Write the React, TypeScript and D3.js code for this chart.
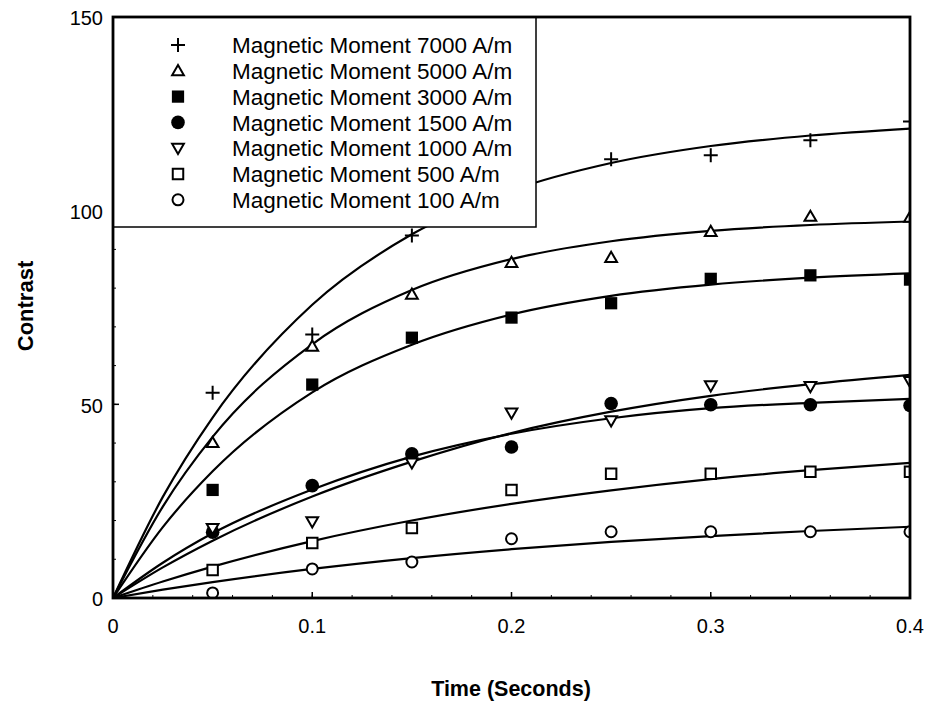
import React from "react";
import * as d3 from "d3";

// ---------- data ----------
const SERIES_LABELS = [
  "Magnetic Moment 7000 A/m",
  "Magnetic Moment 5000 A/m",
  "Magnetic Moment 3000 A/m",
  "Magnetic Moment 1500 A/m",
  "Magnetic Moment 1000 A/m",
  "Magnetic Moment 500 A/m",
  "Magnetic Moment 100 A/m",
];
const SERIES_MARKERS = ["plus", "triUp", "squareFilled", "circleFilled", "triDown", "squareOpen", "circleOpen"];

const T_POINTS = [0.05, 0.1, 0.15, 0.2, 0.25, 0.3, 0.35, 0.4];
const P7000 = [53, 68, 93.6, 104, 113.3, 114.3, 118.2, 123];
const P5000 = [40.1, 65, 78.4, 86.6, 87.9, 94.6, 98.5, 98.3];
const P3000 = [27.9, 55.1, 67.2, 72.4, 76.1, 82.4, 83.3, 82.2];
const P1500 = [17.0, 29.0, 37.2, 39.0, 50.2, 49.9, 49.9, 49.7];
const P1000 = [18.0, 19.7, 34.9, 47.8, 45.8, 54.8, 54.6, 55.9];
const P500 = [7.2, 14.2, 18.1, 27.9, 32.1, 32.1, 32.6, 32.6];
const P100 = [1.3, 7.5, 9.3, 15.3, 17.1, 17.1, 17.1, 17.1];

const T_CURVE = [0, 0.025, 0.05, 0.1, 0.15, 0.2, 0.25, 0.3, 0.35, 0.4];
const C7000 = [0, 26.1, 46.6, 75.7, 93.9, 105.2, 112.3, 116.7, 119.4, 121.2];
const C5000 = [0, 23.6, 41.6, 65.5, 79.5, 87.5, 92.1, 94.8, 96.3, 97.2];
const C3000 = [0, 18.3, 32.7, 53.1, 65.4, 73.2, 78.0, 80.9, 82.7, 83.8];
const C1500 = [0, 9.1, 16.7, 28.0, 36.5, 42.4, 46.4, 49.0, 50.4, 51.4];
const C1000 = [0, 7.9, 14.8, 26.2, 35.2, 42.6, 48.1, 52.2, 55.2, 57.6];
const C500 = [0, 4.25, 8.1, 14.7, 20.0, 24.3, 27.8, 30.7, 33.0, 34.9];
const C100 = [0, 2.15, 4.1, 7.5, 10.3, 12.6, 14.5, 16.0, 17.3, 18.4];

const POINT_SERIES = [P7000, P5000, P3000, P1500, P1000, P500, P100];
const CURVE_SERIES = [C7000, C5000, C3000, C1500, C1000, C500, C100];

const X_TICKS = [0, 0.1, 0.2, 0.3, 0.4];
const X_TICK_LABELS = ["0", "0.1", "0.2", "0.3", "0.4"];
const Y_TICKS = [0, 50, 100, 150];
const Y_TICK_LABELS = ["0", "50", "100", "150"];

const X_TITLE = "Time (Seconds)";
const Y_TITLE = "Contrast";

// ---------- layout ----------
const W = 930;
const H = 701;
const PL = 113, PR = 910, PT = 17, PB = 598;
const FONT = "'Liberation Sans', Arial, Helvetica, sans-serif";

const x = d3.scaleLinear().domain([0, 0.4]).range([PL, PR]);
const y = d3.scaleLinear().domain([0, 150]).range([PB, PT]);

function Marker({ kind, cx, cy }: { kind: string; cx: number; cy: number }) {
  const t = `translate(${cx},${cy})`;
  switch (kind) {
    case "plus":
      return (
        <path d="M-7,0H7M0,-7V7" transform={t} stroke="#000" strokeWidth={2} fill="none" />
      );
    case "triUp":
      return (
        <path d={d3.symbol(d3.symbolTriangle, 60)() as string} transform={t + " translate(0,1)"} stroke="#000" strokeWidth={2} fill="#fff" />
      );
    case "triDown":
      return (
        <path d={d3.symbol(d3.symbolTriangle, 60)() as string} transform={t + " translate(0,-1) rotate(180)"} stroke="#000" strokeWidth={2} fill="#fff" />
      );
    case "squareFilled":
      return <path d={d3.symbol(d3.symbolSquare, 150)() as string} transform={t} fill="#000" />;
    case "squareOpen":
      return <path d={d3.symbol(d3.symbolSquare, 110)() as string} transform={t} fill="#fff" stroke="#000" strokeWidth={2} />;
    case "circleFilled":
      return <circle cx={cx} cy={cy} r={6.8} fill="#000" />;
    case "circleOpen":
      return <circle cx={cx} cy={cy} r={5.5} fill="#fff" stroke="#000" strokeWidth={2} />;
  }
  return null;
}

export default function App() {
  const line = d3
    .line<[number, number]>()
    .x((d) => x(d[0]))
    .y((d) => y(d[1]))
    .curve(d3.curveMonotoneX);

  const minorX = d3.range(0, 0.4001, 0.02);
  const minorY = d3.range(0, 150.01, 10);

  const legendX = PL, legendY = PT, legendW = 423, legendH = 210;
  const rowStart = 45, rowStep = 25.8;

  return (
    <svg
      width={W}
      height={H}
      style={{ position: "absolute", left: 0, top: 0, background: "#fff" }}
      fontFamily={FONT}
    >
      <defs>
        <clipPath id="plotClip">
          <rect x={PL} y={PT} width={PR - PL} height={PB - PT} />
        </clipPath>
      </defs>
      <rect x={0} y={0} width={W} height={H} fill="#fff" />

      {/* minor ticks */}
      {minorX.map((v, i) => (
        <line key={"mx" + i} x1={x(v)} x2={x(v)} y1={PB} y2={PB - 3} stroke="#000" strokeWidth={1} />
      ))}
      {minorY.map((v, i) => (
        <line key={"my" + i} x1={PL} x2={PL + 3} y1={y(v)} y2={y(v)} stroke="#000" strokeWidth={1} />
      ))}
      {X_TICKS.map((v, i) => (
        <line key={"tx" + i} x1={x(v)} x2={x(v)} y1={PB} y2={PB - 6} stroke="#000" strokeWidth={1.5} />
      ))}
      {Y_TICKS.map((v, i) => (
        <line key={"ty" + i} x1={PL} x2={PL + 6} y1={y(v)} y2={y(v)} stroke="#000" strokeWidth={1.5} />
      ))}

      {/* curves & points */}
      <g clipPath="url(#plotClip)">
        {CURVE_SERIES.map((vals, si) => (
          <path
            key={"c" + si}
            d={line(T_CURVE.map((t, i) => [t, vals[i]] as [number, number])) as string}
            fill="none"
            stroke="#000"
            strokeWidth={2.2}
          />
        ))}
        {POINT_SERIES.map((vals, si) =>
          vals.map((v, i) => (
            <Marker key={"p" + si + "-" + i} kind={SERIES_MARKERS[si]} cx={x(T_POINTS[i])} cy={y(v)} />
          ))
        )}
      </g>

      {/* legend */}
      <rect x={legendX} y={legendY} width={legendW} height={legendH} fill="#fff" stroke="#000" strokeWidth={1.5} />
      {SERIES_LABELS.map((lab, i) => (
        <g key={"lg" + i}>
          <Marker kind={SERIES_MARKERS[i]} cx={178} cy={legendY + rowStart - PT + i * rowStep} />
          <text
            x={232}
            y={legendY + rowStart - PT + i * rowStep}
            dy="0.36em"
            fontSize={22.5}
            fill="#000"
          >
            {lab}
          </text>
        </g>
      ))}

      {/* frame */}
      <rect x={PL} y={PT} width={PR - PL} height={PB - PT} fill="none" stroke="#000" strokeWidth={2.8} />

      {/* tick labels */}
      {X_TICKS.map((v, i) => (
        <text key={"xl" + i} x={x(v)} y={626} dy="0.36em" textAnchor="middle" fontSize={20} fill="#000">
          {X_TICK_LABELS[i]}
        </text>
      ))}
      {Y_TICKS.map((v, i) => (
        <text key={"yl" + i} x={103} y={y(v) + 1} dy="0.36em" textAnchor="end" fontSize={20} fill="#000">
          {Y_TICK_LABELS[i]}
        </text>
      ))}

      {/* axis titles */}
      <text x={511} y={688} dy="0.36em" textAnchor="middle" fontSize={21.5} fontWeight="bold" fill="#000">
        {X_TITLE}
      </text>
      <text
        transform={`translate(25,306) rotate(-90)`}
        dy="0.36em"
        textAnchor="middle"
        fontSize={22}
        fontWeight="bold"
        fill="#000"
      >
        {Y_TITLE}
      </text>
    </svg>
  );
}
